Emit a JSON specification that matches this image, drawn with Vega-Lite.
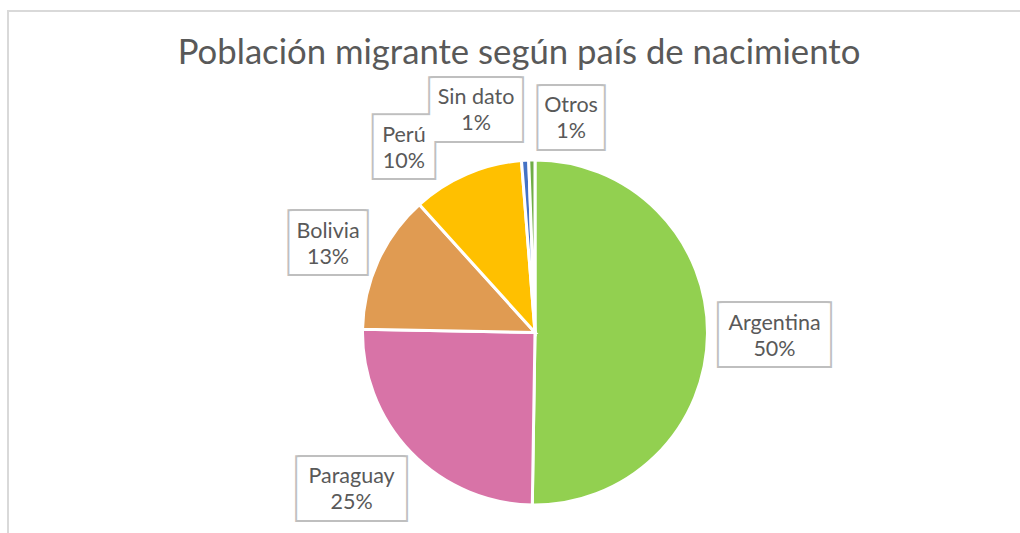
{
  "$schema": "https://vega.github.io/schema/vega-lite/v6.json",
  "autosize": "none",
  "width": 1054,
  "height": 643,
  "padding": {"left": 8, "top": 11, "right": -42, "bottom": -110},
  "background": "white",
  "config": {"view": {"stroke": "#D9D9D9", "strokeWidth": 2}},
  "view": {"stroke": "#D9D9D9", "strokeWidth": 2},
  "title": {
    "text": "Población migrante según país de nacimiento",
    "font": "Lato",
    "fontSize": 34.7,
    "fontWeight": "normal",
    "color": "#595959",
    "anchor": "middle",
    "baseline": "alphabetic",
    "offset": -56,
    "dx": -16,
    "dy": 34
  },
  "data": {
    "values": [
      {"country": "Argentina", "value": 50.25, "pct": "50%", "orden": 1},
      {"country": "Paraguay", "value": 25.05, "pct": "25%", "orden": 2},
      {"country": "Bolivia", "value": 13.0, "pct": "13%", "orden": 3},
      {"country": "Perú", "value": 10.45, "pct": "10%", "orden": 4},
      {"country": "Sin dato", "value": 0.67, "pct": "1%", "orden": 5},
      {"country": "Otros", "value": 0.58, "pct": "1%", "orden": 6}
    ]
  },
  "encoding": {
    "theta": {"field": "value", "type": "quantitative", "stack": true},
    "order": {"field": "orden", "type": "quantitative"}
  },
  "layer": [
    {
      "mark": {"type": "point", "opacity": 0},
      "encoding": {
        "x": {"datum": 0, "type": "quantitative", "axis": null},
        "y": {"datum": 0, "type": "quantitative", "axis": null}
      }
    },
    {
      "mark": {"type": "arc", "outerRadius": 172.5, "stroke": "white", "strokeWidth": 3},
      "encoding": {
        "color": {
          "field": "country",
          "type": "nominal",
          "scale": {
            "domain": ["Argentina", "Paraguay", "Bolivia", "Perú", "Sin dato", "Otros"],
            "range": ["#92D050", "#D873A7", "#E09B52", "#FFC000", "#4472C4", "#70AD47"]
          },
          "legend": null
        }
      }
    },
    {
      "mark": {
        "type": "text",
        "radius": 236,
        "font": "DejaVu Sans Mono",
        "fontSize": 4,
        "align": "center",
        "baseline": "middle",
        "fill": "#BFBFBF",
        "stroke": "#BFBFBF",
        "strokeWidth": 62,
        "strokeJoin": "miter",
        "text": {"expr": "pad('', datum.country==='Argentina'?22:datum.country==='Paraguay'?21:datum.country==='Bolivia'?8:datum.country==='Perú'?1:datum.country==='Sin dato'?14:3, '█')"},
        "dx": {"expr": "datum.country==='Argentina'?3.5:datum.country==='Paraguay'?-13.7:datum.country==='Bolivia'?7.8:datum.country==='Perú'?-37.7:datum.country==='Sin dato'?-45.4:40.3"},
        "dy": {"expr": "datum.country==='Argentina'?1:datum.country==='Paraguay'?-7.9:datum.country==='Bolivia'?8.4:datum.country==='Perú'?31.3:datum.country==='Sin dato'?13.1:21"}
      },
      "encoding": {"detail": {"field": "country", "type": "nominal"}}
    },
    {
      "mark": {
        "type": "text",
        "radius": 236,
        "font": "DejaVu Sans Mono",
        "fontSize": 4,
        "align": "center",
        "baseline": "middle",
        "fill": "white",
        "stroke": "white",
        "strokeWidth": 58,
        "strokeJoin": "miter",
        "text": {"expr": "pad('', datum.country==='Argentina'?22:datum.country==='Paraguay'?21:datum.country==='Bolivia'?8:datum.country==='Perú'?1:datum.country==='Sin dato'?14:3, '█')"},
        "dx": {"expr": "datum.country==='Argentina'?3.5:datum.country==='Paraguay'?-13.7:datum.country==='Bolivia'?7.8:datum.country==='Perú'?-37.7:datum.country==='Sin dato'?-45.4:40.3"},
        "dy": {"expr": "datum.country==='Argentina'?1:datum.country==='Paraguay'?-7.9:datum.country==='Bolivia'?8.4:datum.country==='Perú'?31.3:datum.country==='Sin dato'?13.1:21"}
      },
      "encoding": {"detail": {"field": "country", "type": "nominal"}}
    },
    {
      "mark": {
        "type": "text",
        "radius": 236,
        "font": "Lato",
        "fontSize": 21.5,
        "lineHeight": 26,
        "align": "center",
        "baseline": "middle",
        "fill": "#595959",
        "text": {"expr": "[datum.country, datum.pct]"},
        "dx": {"expr": "datum.country==='Argentina'?3.5:datum.country==='Paraguay'?-13.7:datum.country==='Bolivia'?7.8:datum.country==='Perú'?-37.7:datum.country==='Sin dato'?-45.4:40.3"},
        "dy": {"expr": "(datum.country==='Argentina'?1:datum.country==='Paraguay'?-7.9:datum.country==='Bolivia'?8.4:datum.country==='Perú'?31.3:datum.country==='Sin dato'?13.1:21) - 11.5"}
      },
      "encoding": {"detail": {"field": "country", "type": "nominal"}}
    }
  ]
}
